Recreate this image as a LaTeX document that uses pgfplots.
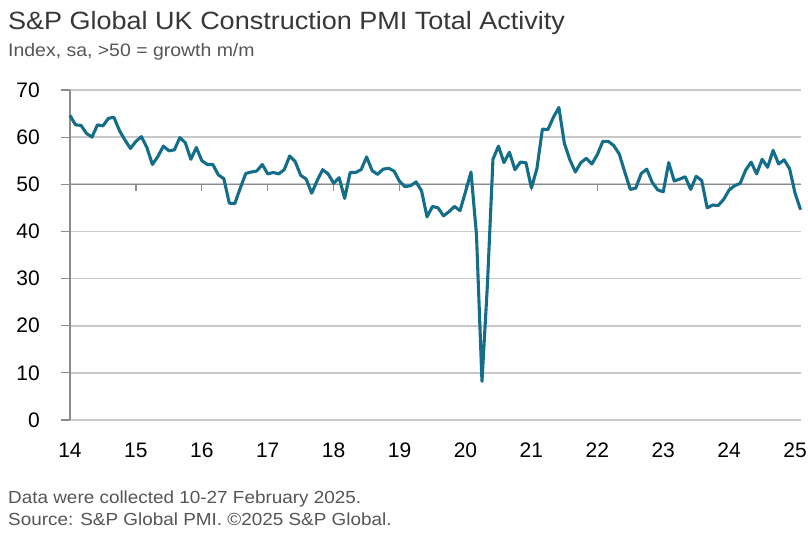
\documentclass[border=0pt]{standalone}
\usepackage{fontspec}
\setmainfont{Liberation Sans}
\newfontfamily\widefont{Liberation Sans}[FakeStretch=1.08]
\usepackage{pgfplots}
\usepackage{pgfplotstable}
\pgfplotsset{compat=1.18}
\definecolor{pmiblue}{RGB}{20,110,138}
\definecolor{gridgray}{RGB}{200,200,200}
\definecolor{midgray}{RGB}{140,140,140}
\definecolor{titlegray}{RGB}{55,55,55}
\definecolor{subgray}{RGB}{85,85,85}

\pgfplotstableread{
yr mo v
14 1 64.6
14 2 62.6
14 3 62.5
14 4 60.8
14 5 60.0
14 6 62.6
14 7 62.4
14 8 64.0
14 9 64.2
14 10 61.4
14 11 59.4
14 12 57.6
15 1 59.1
15 2 60.1
15 3 57.8
15 4 54.2
15 5 55.9
15 6 58.1
15 7 57.1
15 8 57.3
15 9 59.9
15 10 58.8
15 11 55.3
15 12 57.8
16 1 55.0
16 2 54.2
16 3 54.2
16 4 52.0
16 5 51.2
16 6 46.0
16 7 45.9
16 8 49.2
16 9 52.3
16 10 52.6
16 11 52.8
16 12 54.2
17 1 52.2
17 2 52.5
17 3 52.2
17 4 53.1
17 5 56.0
17 6 54.8
17 7 51.9
17 8 51.1
17 9 48.1
17 10 50.8
17 11 53.1
17 12 52.2
18 1 50.2
18 2 51.4
18 3 47.0
18 4 52.5
18 5 52.5
18 6 53.1
18 7 55.8
18 8 52.9
18 9 52.1
18 10 53.2
18 11 53.4
18 12 52.8
19 1 50.6
19 2 49.5
19 3 49.7
19 4 50.5
19 5 48.6
19 6 43.1
19 7 45.3
19 8 45.0
19 9 43.3
19 10 44.2
19 11 45.3
19 12 44.4
20 1 48.4
20 2 52.6
20 3 39.3
20 4 8.2
20 5 28.9
20 6 55.3
20 7 58.1
20 8 54.6
20 9 56.8
20 10 53.1
20 11 54.7
20 12 54.6
21 1 49.2
21 2 53.3
21 3 61.7
21 4 61.6
21 5 64.2
21 6 66.3
21 7 58.7
21 8 55.2
21 9 52.6
21 10 54.6
21 11 55.5
21 12 54.3
22 1 56.3
22 2 59.1
22 3 59.1
22 4 58.2
22 5 56.4
22 6 52.6
22 7 48.9
22 8 49.2
22 9 52.3
22 10 53.2
22 11 50.4
22 12 48.8
23 1 48.4
23 2 54.6
23 3 50.7
23 4 51.1
23 5 51.6
23 6 48.9
23 7 51.7
23 8 50.8
23 9 45.0
23 10 45.6
23 11 45.5
23 12 46.8
24 1 48.8
24 2 49.7
24 3 50.2
24 4 53.0
24 5 54.7
24 6 52.2
24 7 55.3
24 8 53.6
24 9 57.2
24 10 54.3
24 11 55.2
24 12 53.3
25 1 48.1
25 2 44.6
}\pmidata

\begin{document}
\begin{tikzpicture}
\useasboundingbox (0pt,0pt) rectangle (808pt,534pt);
\node[anchor=base west, inner sep=0pt, text=titlegray, font=\widefont\fontsize{25}{30}\selectfont] at (8pt,504pt) {S\&P Global UK Construction PMI Total Activity};
\node[anchor=base west, inner sep=0pt, text=subgray, font=\widefont\fontsize{18}{22}\selectfont] at (8pt,477.5pt) {Index, sa, >50 = growth m/m};
\node[anchor=base west, inner sep=0pt, text=subgray, font=\widefont\fontsize{17.5}{21}\selectfont] at (8pt,30pt) {Data were collected 10-27 February 2025.};
\node[anchor=base west, inner sep=0pt, text=subgray, font=\widefont\fontsize{17.5}{21}\selectfont] at (8pt,8pt) {Source: S\&P Global PMI. ©2025 S\&P Global.};
\begin{axis}[
  at={(70pt,114pt)}, anchor=south west,
  scale only axis, width=731pt, height=330pt,
  xmin=14, xmax=25.09, ymin=0, ymax=70,
  axis lines=left,
  axis line style={draw=midgray, line width=1.2pt, -},
  x axis line style={draw=gridgray, line width=1.6pt},
  xtick={14,...,25}, ytick={0,10,...,70},
  x tick style={draw=none},
  y tick style={draw=midgray, line width=1.2pt},
  major tick length=9pt,
  tick align=outside,
  ymajorgrids, grid style={draw=gridgray, line width=1.6pt},
  /pgf/number format/assume math mode=true,
  ticklabel style={font=\fontsize{21}{24}\selectfont, text=black},
  yticklabel style={inner sep=0pt, anchor=east, xshift=-21pt},
  xticklabel style={inner sep=0pt, anchor=north, yshift=-14pt},
  clip=false,
]
\draw[midgray, line width=1.4pt] (axis cs:14,50) -- (axis cs:25.09,50);
\pgfplotsinvokeforeach{15,...,24}{\draw[midgray, line width=1.2pt] (axis cs:#1,50) -- ++(0pt,-7pt);}
\addplot[color=pmiblue, line width=3.1pt, line join=round, mark=none] table[x expr=\thisrow{yr}+(\thisrow{mo}-1)/12, y=v] {\pmidata};
\end{axis}
\end{tikzpicture}
\end{document}
